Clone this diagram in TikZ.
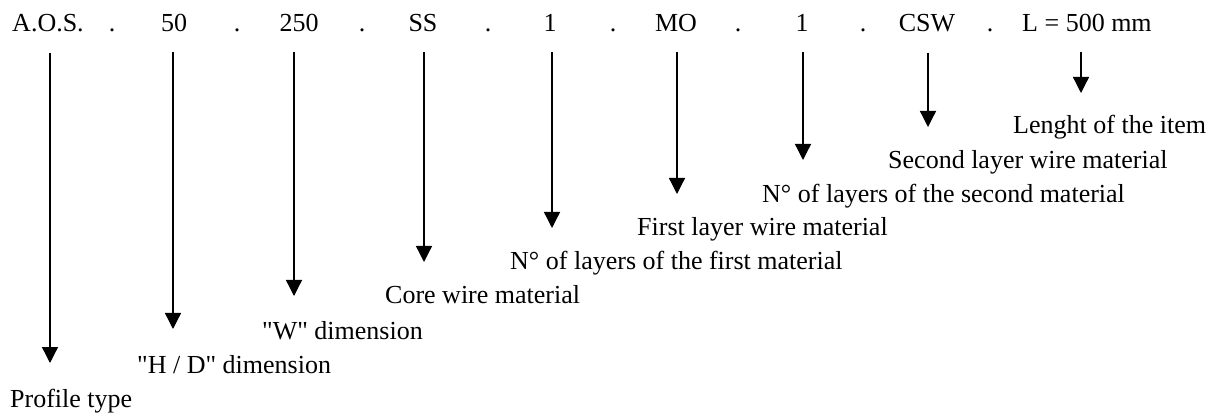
\documentclass[tikz,border=0pt]{standalone}
\usepackage{fontspec}
\setmainfont{Liberation Serif}
\usetikzlibrary{arrows.meta}

\tikzset{
    code/.style={anchor=base, inner sep=0pt, font=\fontsize{26}{30}\selectfont},
    desc/.style={anchor=base west, inner sep=0pt, font=\fontsize{26}{30}\selectfont},
    pointer/.style={line width=1.3pt, -{Triangle[length=16pt, width=16pt]}}
}

\begin{document}
\begin{tikzpicture}[x=1pt, y=-1pt]
    \useasboundingbox (0,0) rectangle (1219,414);

    % the code
    \node[code] (aos) at (48,32) {A.O.S.};
    \node[code] (h) at (174,32) {50};
    \node[code] (w) at (299,32) {250};
    \node[code] (core) at (423,32) {SS};
    \node[code] (n1) at (550,32) {1};
    \node[code] (mat1) at (676,32) {MO};
    \node[code] (n2) at (802,32) {1};
    \node[code] (mat2) at (927,32) {CSW};
    \node[code, anchor=base west] (len) at (1022,32) {L = 500 mm};
    \foreach \x [count=\i] in {112,237,362,488,613,738,863,990}
        \node[code] (dot\i) at (\x,32) {.};

    % what each part means
    \node[desc] (aos-txt) at (10,407) {Profile type};
    \node[desc] (h-txt) at (137,373) {\textquotedbl H / D\textquotedbl{} dimension};
    \node[desc] (w-txt) at (262,339) {\textquotedbl W\textquotedbl{} dimension};
    \node[desc] (core-txt) at (385,304) {Core wire material};
    \node[desc] (n1-txt) at (510,270) {N° of layers of the first material};
    \node[desc] (mat1-txt) at (637,236) {First layer wire material};
    \node[desc] (n2-txt) at (762,203) {N° of layers of the second material};
    \node[desc] (mat2-txt) at (888,169) {Second layer wire material};
    \node[desc] (len-txt) at (1013,134) {Lenght of the item};

    \foreach \n/\x/\y in {aos/50/363, h/173/329, w/294/296, core/424/262,
            n1/552/228, mat1/677/194, n2/803/160, mat2/928/127, len/1081/93}
        \coordinate (\n-tip) at (\x,\y);

    \foreach \n in {aos,h,w,core,n1,mat1,n2,mat2,len}
        \draw[pointer] (\n.south -| \n-tip) ++(0,20) -- (\n-tip);
\end{tikzpicture}
\end{document}
